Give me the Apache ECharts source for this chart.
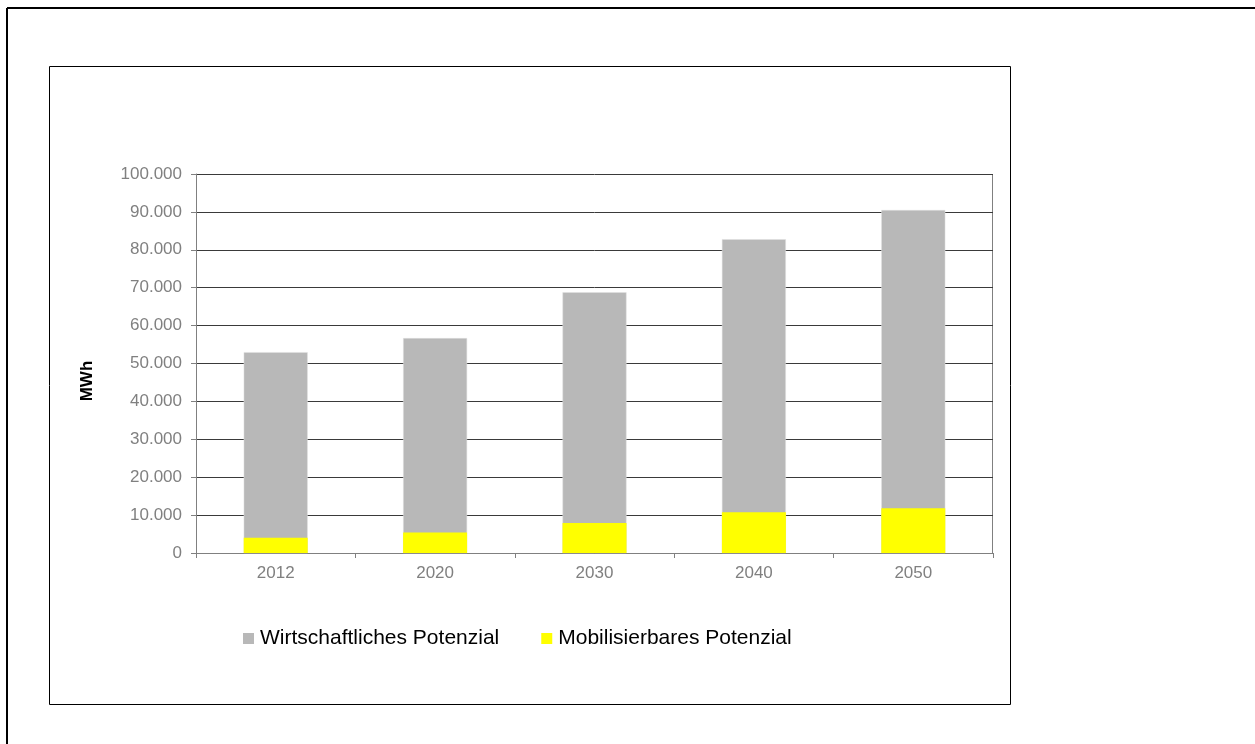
<!DOCTYPE html>
<html>
<head>
<meta charset="utf-8">
<script src="https://cdn.jsdelivr.net/npm/echarts@6/dist/echarts.min.js"></script>
<style>
html,body{margin:0;padding:0;background:#fff;}
#chart{width:1255px;height:744px;}
</style>
</head>
<body>
<div id="chart"></div>
<script>
const categories = ['2012', '2020', '2030', '2040', '2050'];
const wirtschaftlich = [53000, 56700, 68800, 82800, 90500];
const mobilisierbar = [4000, 5400, 7900, 10750, 11800];
const seriesNames = ['Wirtschaftliches Potenzial', 'Mobilisierbares Potenzial'];
const yAxisTitle = 'MWh';

const chart = echarts.init(document.getElementById('chart'));
const fmt = v => v === 0 ? '0' : String(v).replace(/\B(?=(\d{3})+(?!\d))/g, '.');

chart.setOption({
  animation: false,
  textStyle: {fontFamily: 'Liberation Sans, Arial, sans-serif'},
  graphic: [
    {type: 'line', shape: {x1: 7, y1: 8, x2: 1255, y2: 8}, style: {stroke: '#000', lineWidth: 2}},
    {type: 'line', shape: {x1: 7, y1: 8, x2: 7, y2: 744}, style: {stroke: '#000', lineWidth: 2}},
    {type: 'rect', shape: {x: 49.5, y: 66.5, width: 961, height: 638}, style: {fill: 'none', stroke: '#000', lineWidth: 1}},
    {type: 'line', shape: {x1: 992.5, y1: 174, x2: 992.5, y2: 553}, style: {stroke: '#808080', lineWidth: 1}},
    {type: 'text', x: 87, y: 381, rotation: Math.PI / 2,
     style: {text: yAxisTitle, font: 'bold 17px "Liberation Sans", Arial, sans-serif', fill: '#000', textAlign: 'center', textVerticalAlign: 'middle'}}
  ],
  grid: {left: 196, right: 262, top: 174, bottom: 191},
  legend: {
    left: 238, top: 623,
    itemWidth: 11, itemHeight: 11, itemGap: 42,
    icon: 'rect',
    itemStyle: {borderWidth: 0},
    textStyle: {fontSize: 21, color: '#000', padding: [0, 0, 0, 1]},
    data: seriesNames
  },
  xAxis: {
    type: 'category',
    data: categories,
    axisLine: {lineStyle: {color: '#808080'}},
    axisTick: {show: true, length: 5, lineStyle: {color: '#808080'}},
    axisLabel: {color: '#808080', fontSize: 17, margin: 12}
  },
  yAxis: {
    type: 'value',
    min: 0, max: 100000, interval: 10000,
    axisLine: {show: true, lineStyle: {color: '#808080'}},
    axisTick: {show: true, length: 5, lineStyle: {color: '#808080'}},
    axisLabel: {color: '#808080', fontSize: 17, margin: 14, formatter: fmt},
    splitLine: {lineStyle: {color: '#3a3a3a', width: 1}}
  },
  series: [
    {name: seriesNames[0], type: 'bar', data: wirtschaftlich, barWidth: 64, barGap: '-100%',
     itemStyle: {color: '#B8B8B8', borderColor: '#E0E0E0', borderWidth: 0.5}},
    {name: seriesNames[1], type: 'bar', data: mobilisierbar, barWidth: 64, barGap: '-100%',
     itemStyle: {color: '#FFFF00'}}
  ]
});
</script>
</body>
</html>
